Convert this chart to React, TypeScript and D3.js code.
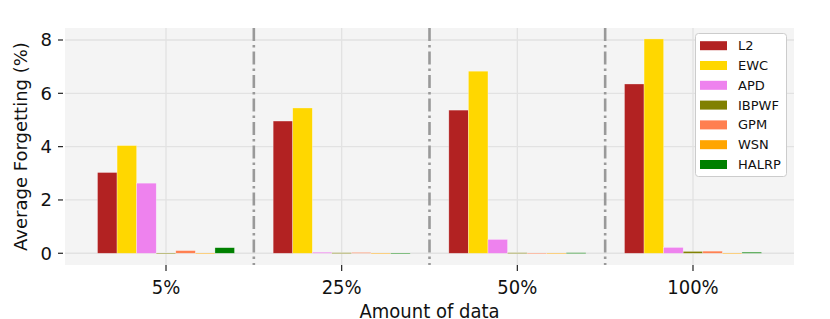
import React from "react";
import * as d3 from "d3";

// categories on the x axis
const categories = ["5%", "25%", "50%", "100%"];
// methods (series) and their colours
const methods = ["L2", "EWC", "APD", "IBPWF", "GPM", "WSN", "HALRP"];
const colors = ["#b22222", "#ffd700", "#ee82ee", "#808000", "#ff7f50", "#ffa500", "#008000"];

// average forgetting per method, one value per category
const l2 = [3.03, 4.96, 5.37, 6.35];
const ewc = [4.04, 5.45, 6.83, 8.04];
const apd = [2.63, 0.04, 0.52, 0.22];
const ibpwf = [0.01, 0.02, 0.02, 0.07];
const gpm = [0.1, 0.03, 0.01, 0.08];
const wsn = [0.01, 0.01, 0.01, 0.01];
const halrp = [0.21, 0.01, 0.02, 0.04];
const seriesValues = [l2, ewc, apd, ibpwf, gpm, wsn, halrp];

const yTicks = [0, 2, 4, 6, 8];

export default function App() {
    const width = 830;
    const height = 319;
    const left = 65;
    const right = 794;
    const top = 28;
    const bottom = 265;
    const font = "DejaVu Sans, sans-serif";

    //index based x scale, with a band for the bars inside a group
    const x = d3.scaleLinear().domain([-0.575, categories.length - 0.425]).range([left, right]);
    const inner = d3.scaleBand().domain(methods).range([-0.39, 0.39]);
    const y = d3.scaleLinear().domain([-0.44, 8.45]).range([bottom, top]);

    const bw = x(inner.bandwidth()) - x(0);

    const bars = [];
    methods.forEach((m, si) => {
        seriesValues[si].forEach((v, ci) => {
            const bx = x(ci + inner(m));
            bars.push(
                <rect
                    key={m + ci}
                    x={bx}
                    y={y(v)}
                    width={bw}
                    height={Math.max(y(0) - y(v), 0.8)}
                    fill={colors[si]}
                    stroke="white"
                    strokeOpacity={0.5}
                    strokeWidth={0.6}
                />
            );
        });
    });

    return (
        <svg
            width={width}
            height={height}
            style={{ position: "absolute", left: 0, top: 0, background: "white" }}
            fontFamily={font}
        >
            <rect x={left} y={top} width={right - left} height={bottom - top} fill="#f4f4f4" />

            {/* grid */}
            {yTicks.map((t) => (
                <line key={"gy" + t} x1={left} x2={right} y1={y(t)} y2={y(t)} stroke="#e2e2e2" strokeWidth={1.3} />
            ))}
            {categories.map((c, i) => (
                <line key={"gx" + c} x1={x(i)} x2={x(i)} y1={top} y2={bottom} stroke="#e2e2e2" strokeWidth={1.3} />
            ))}

            {bars}

            {/* separators between groups */}
            {categories.slice(1).map((c, i) => (
                <line
                    key={"sep" + c}
                    x1={x(i + 0.5)}
                    x2={x(i + 0.5)}
                    y1={top}
                    y2={bottom}
                    stroke="#999999"
                    strokeWidth={2.6}
                    strokeDasharray="13,4,2.5,4"
                />
            ))}

            {/* y axis */}
            {yTicks.map((t) => (
                <g key={"yt" + t}>
                    <line x1={58} x2={63} y1={y(t)} y2={y(t)} stroke="#222" strokeWidth={1.2} />
                    <text x={52} y={y(t)} dy="0.35em" textAnchor="end" fontSize={18} fill="#111">
                        {t}
                    </text>
                </g>
            ))}
            <text
                transform={`translate(27,${(top + bottom) / 2}) rotate(-90)`}
                textAnchor="middle"
                fontSize={18}
                fill="#111"
            >
                Average Forgetting (%)
            </text>

            {/* x axis */}
            {categories.map((c, i) => (
                <g key={"xt" + c}>
                    <line x1={x(i)} x2={x(i)} y1={265} y2={271} stroke="#222" strokeWidth={1.2} />
                    <text
                        transform={`translate(${x(i)},294) scale(1,1.1)`}
                        textAnchor="middle"
                        fontSize={18}
                        fill="#111"
                    >
                        {c}
                    </text>
                </g>
            ))}
            <text
                transform={`translate(${(left + right) / 2},318) scale(1,1.1)`}
                textAnchor="middle"
                fontSize={18}
                fill="#111"
            >
                Amount of data
            </text>

            {/* legend */}
            <rect x={695.5} y={33.5} width={91} height={143} rx={3} fill="white" stroke="#cccccc" />
            {methods.map((m, i) => (
                <g key={"lg" + m} transform={`translate(700,${45.7 + i * 19.8})`}>
                    <rect x={0} y={-4.5} width={27} height={9} fill={colors[i]} />
                    <text x={38} y={0} dy="0.35em" fontSize={13} fill="#111">
                        {m}
                    </text>
                </g>
            ))}
        </svg>
    );
}
